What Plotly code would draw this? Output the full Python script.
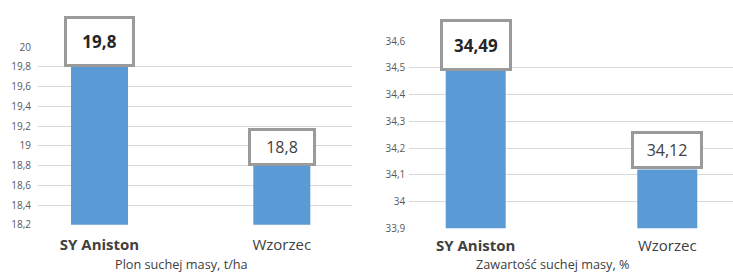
import plotly.graph_objects as go

categories = ["SY Aniston", "Wzorzec"]
category_labels = ["<b>SY Aniston</b>", "Wzorzec"]
plon_values = [19.8, 18.8]
plon_labels = ["<b>19,8</b>", "18,8"]
zaw_values = [34.49, 34.12]
zaw_labels = ["<b>34,49</b>", "34,12"]
plon_ticks = [18.2, 18.4, 18.6, 18.8, 19.0, 19.2, 19.4, 19.6, 19.8, 20.0]
plon_ticktext = ["18,2", "18,4", "18,6", "18,8", "19", "19,2", "19,4", "19,6", "19,8", "20"]
zaw_ticks = [33.9, 34.0, 34.1, 34.2, 34.3, 34.4, 34.5, 34.6]
zaw_ticktext = ["33,9", "34", "34,1", "34,2", "34,3", "34,4", "34,5", "34,6"]
plon_title = "Plon suchej masy, t/ha"
zaw_title = "Zawartość suchej masy, %"

W, H = 733, 273
BAR = "#5b9bd5"
GRID = "#d9d9d9"
FONT = "Open Sans"

fig = go.Figure()
fig.add_trace(go.Bar(x=categories, y=plon_values, base=0, width=0.3127,
                     marker=dict(color=BAR, line=dict(width=0)),
                     xaxis="x", yaxis="y", hoverinfo="skip"))
fig.add_trace(go.Bar(x=categories, y=zaw_values, width=0.313,
                     marker=dict(color=BAR, line=dict(width=0)),
                     xaxis="x2", yaxis="y2", hoverinfo="skip"))

def px(x):
    return x / W

def py(y):
    return 1 - y / H

axis_common = dict(showline=False, zeroline=False, fixedrange=True)

fig.update_layout(
    width=W, height=H,
    margin=dict(l=0, r=0, t=0, b=0),
    paper_bgcolor="white", plot_bgcolor="white",
    showlegend=False,
    font=dict(family=FONT, color="#595959"),
    xaxis=dict(domain=[px(38), px(352)], anchor="y", type="category",
               range=[-0.3374, 1.385], tickvals=categories, ticktext=category_labels,
               showgrid=False, ticks="outside", ticklen=6, tickcolor="rgba(0,0,0,0)",
               tickfont=dict(size=15, color="#404040", family=FONT), **axis_common),
    yaxis=dict(domain=[py(228.7), py(42)], anchor="x", range=[18.2, 20.0],
               tickvals=plon_ticks, ticktext=plon_ticktext,
               showgrid=True, gridcolor=GRID, gridwidth=1,
               ticks="outside", ticklen=4, tickcolor="rgba(0,0,0,0)",
               tickfont=dict(size=10, color="#595959", family=FONT), **axis_common),
    xaxis2=dict(domain=[px(409.3), 1.0], anchor="y2", type="category",
                range=[-0.3466, 1.343], tickvals=categories, ticktext=category_labels,
                showgrid=False, ticks="outside", ticklen=4, tickcolor="rgba(0,0,0,0)",
                tickfont=dict(size=15, color="#404040", family=FONT), **axis_common),
    yaxis2=dict(domain=[py(232.3), py(36)], anchor="x2", range=[33.9, 34.6],
                tickvals=zaw_ticks, ticktext=zaw_ticktext,
                showgrid=True, gridcolor=GRID, gridwidth=1,
                ticks="outside", ticklen=1, tickcolor="rgba(0,0,0,0)",
                tickfont=dict(size=10, color="#595959", family=FONT), **axis_common),
)

box_sizes_left = [(65, 45), (62, 32)]
box_sizes_right = [(66, 46), (66, 32)]

for i, (c, v, t) in enumerate(zip(categories, plon_values, plon_labels)):
    w, h = box_sizes_left[i]
    fig.add_annotation(x=c, y=v, xref="x", yref="y", text=t, showarrow=False,
                       xanchor="center", yanchor="bottom", width=w, height=h,
                       bgcolor="white", bordercolor="#9a9a9a", borderwidth=3, borderpad=0,
                       font=dict(size=17 if i == 0 else 16, color="#262626" if i == 0 else "#404040", family=FONT))
for i, (c, v, t) in enumerate(zip(categories, zaw_values, zaw_labels)):
    w, h = box_sizes_right[i]
    fig.add_annotation(x=c, y=v, xref="x2", yref="y2", text=t, showarrow=False,
                       xanchor="center", yanchor="bottom", width=w, height=h,
                       bgcolor="white", bordercolor="#9a9a9a", borderwidth=3, borderpad=0,
                       font=dict(size=17 if i == 0 else 16, color="#262626" if i == 0 else "#404040", family=FONT))

fig.add_annotation(x=px(181.5), y=py(269.5), xref="paper", yref="paper", text=plon_title,
                   showarrow=False, xanchor="center", yanchor="middle",
                   font=dict(size=12.7, color="#404040", family=FONT))
fig.add_annotation(x=px(552.5), y=py(269.5), xref="paper", yref="paper", text=zaw_title,
                   showarrow=False, xanchor="center", yanchor="middle",
                   font=dict(size=12.7, color="#404040", family=FONT))

fig.write_html("out.html", config={"displayModeBar": False},
               post_script="document.body.style.margin='0';document.body.style.overflow='hidden';")
